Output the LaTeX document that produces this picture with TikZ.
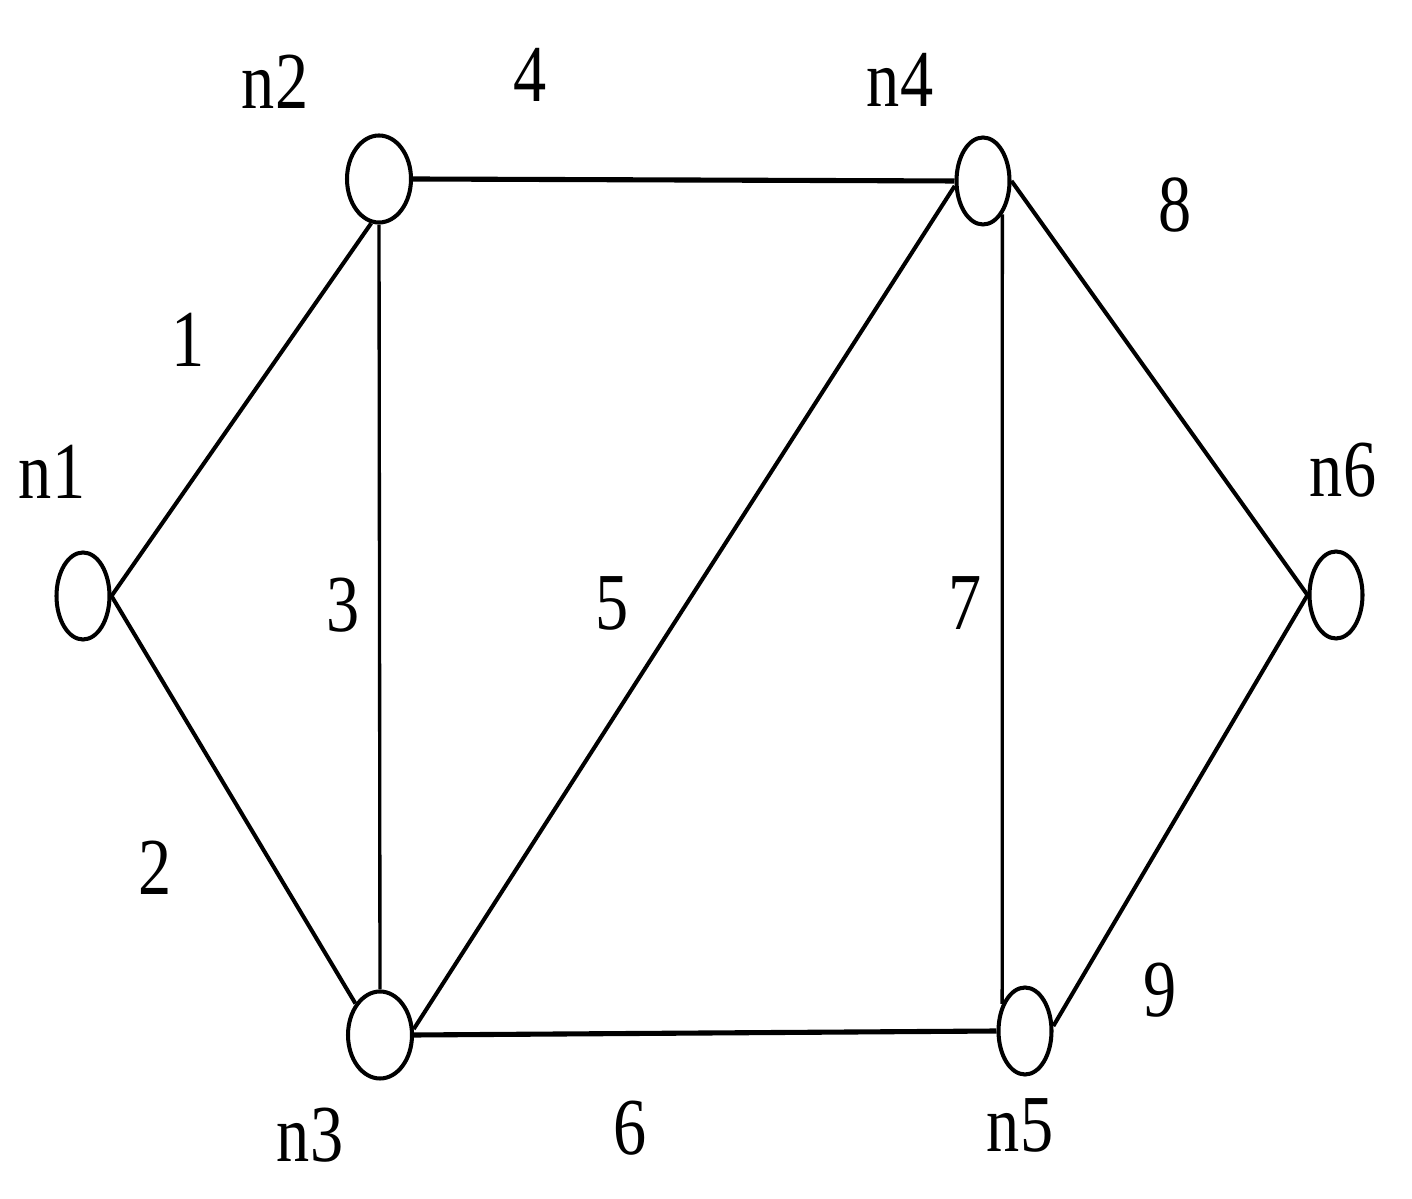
\documentclass[tikz,border=0pt]{standalone}
\usepackage{fontspec}
\usepackage{tikz}
\usetikzlibrary{shapes.geometric}
\usetikzlibrary{positioning}
\newfontfamily\labelfont{Liberation Serif}[FakeStretch=0.82]
\tikzset{graph-line/.style={line width=1.15pt}}
\tikzset{thick-line/.style={line width=1.45pt}}
\tikzset{thin-line/.style={line width=0.95pt}}
\tikzset{graph-node/.style={draw, ellipse, line width=1.15pt, inner sep=0, minimum width=0.53cm, minimum height=0.87cm}}
\tikzset{wide-node/.style={graph-node, minimum width=0.64cm}}
\tikzset{graph-label/.style={inner sep=0, font=\labelfont\fontsize{23}{27}\selectfont}}

\begin{document}
\begin{tikzpicture}[]
    \useasboundingbox (0,0) rectangle (14.12,11.98);

    % nodes
    \node[graph-node] (n1) at (0.83, 6.02) {};
    \node[wide-node] (n2) at (3.79, 10.19) {};
    \node[wide-node] (n3) at (3.80, 1.63) {};
    \node[graph-node] (n4) at (9.83, 10.17) {};
    \node[graph-node] (n5) at (10.25, 1.67) {};
    \node[graph-node] (n6) at (13.36, 6.03) {};

    % edges
    \draw[graph-line] (n1.east) -- (n2.-100);
    \draw[graph-line] (n1.east) -- (n3.128);
    \draw[thin-line] (n2.south) -- (n3.north);
    \draw[thick-line] (n2.east) -- (n4.west);
    \draw[graph-line] (n3.10) -- (n4.190);
    \draw[thick-line] (n3.east) -- (n5.west);
    \draw[thin-line] (n4.-60) -- (n5.130);
    \draw[graph-line] (n4.east) -- (n6.west);
    \draw[graph-line] (n5.10) -- (n6.west);

    % node names
    \node[graph-label] (lbl-n1) at (0.52, 7.26) {n1};
    \node[graph-label] (lbl-n2) at (2.75, 11.16) {n2};
    \node[graph-label] (lbl-n3) at (3.10, 0.63) {n3};
    \node[graph-label] (lbl-n4) at (9.00, 11.18) {n4};
    \node[graph-label] (lbl-n5) at (10.20, 0.73) {n5};
    \node[graph-label] (lbl-n6) at (13.43, 7.28) {n6};

    % edge numbers
    \foreach \num/\x/\y in {1/1.88/8.58, 2/1.55/3.30, 3/3.43/5.93, 4/5.30/11.23,
                            5/6.12/5.95, 6/6.30/0.70, 7/9.65/5.95, 8/11.75/9.93,
                            9/11.60/2.08} {
        \node[graph-label] (lbl-e\num) at (\x, \y) {\num};
    }
\end{tikzpicture}
\end{document}
